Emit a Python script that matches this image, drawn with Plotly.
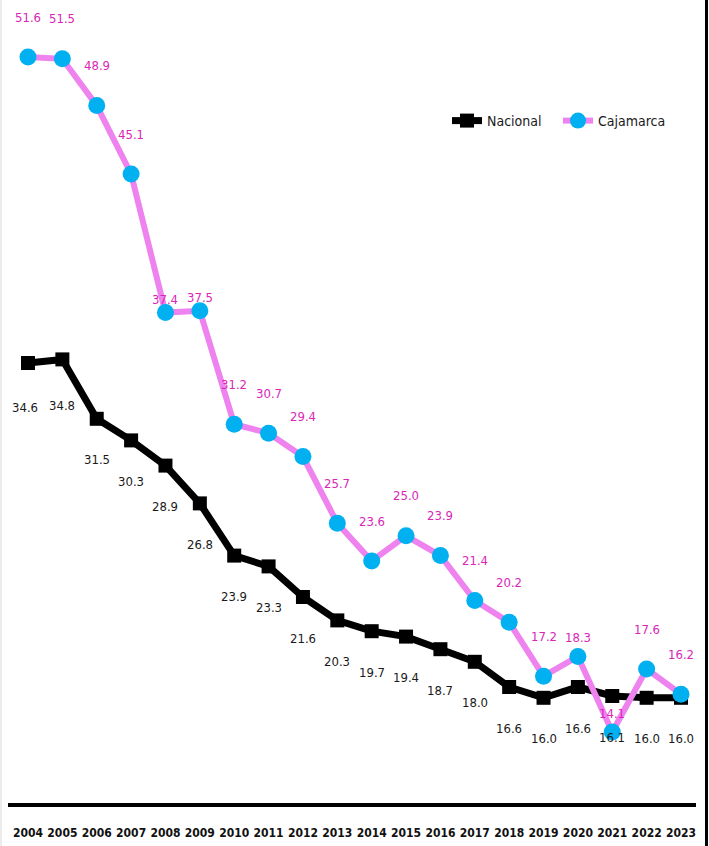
import plotly.graph_objects as go

years = [2004, 2005, 2006, 2007, 2008, 2009, 2010, 2011, 2012, 2013,
         2014, 2015, 2016, 2017, 2018, 2019, 2020, 2021, 2022, 2023]
nacional = [34.6, 34.8, 31.5, 30.3, 28.9, 26.8, 23.9, 23.3, 21.6, 20.3,
            19.7, 19.4, 18.7, 18.0, 16.6, 16.0, 16.6, 16.1, 16.0, 16.0]
cajamarca = [51.6, 51.5, 48.9, 45.1, 37.4, 37.5, 31.2, 30.7, 29.4, 25.7,
             23.6, 25.0, 23.9, 21.4, 20.2, 17.2, 18.3, 14.1, 17.6, 16.2]

FONT = "DejaVu Sans Condensed"
PINK_TXT = "#D926B8"
DARK_TXT = "#1A1A1A"

# label offsets (pixels)
caj_shift_default = 40
caj_shift_special = {2008: 13, 2009: 13, 2020: 19, 2021: 19}
nac_shift_default = -41
nac_shift_special = {2004: -44, 2005: -46}

fig = go.Figure()
fig.add_trace(go.Scatter(
    x=years, y=nacional, name="Nacional", mode="lines+markers",
    line=dict(color="#000000", width=7),
    marker=dict(symbol="square", size=14, color="#000000"),
))
fig.add_trace(go.Scatter(
    x=years, y=cajamarca, name="Cajamarca", mode="lines+markers",
    line=dict(color="#EE82EE", width=6),
    marker=dict(symbol="circle", size=17, color="#00B0F0"),
))

annotations = []
for yr, v in zip(years, cajamarca):
    annotations.append(dict(
        x=yr, y=v, text=f"{v:.1f}", showarrow=False,
        yshift=caj_shift_special.get(yr, caj_shift_default),
        font=dict(family=FONT, size=13, color=PINK_TXT),
    ))
for yr, v in zip(years, nacional):
    annotations.append(dict(
        x=yr, y=v, text=f"{v:.1f}", showarrow=False,
        yshift=nac_shift_special.get(yr, nac_shift_default),
        xshift=-3 if yr in (2004,) else 0,
        font=dict(family=FONT, size=13, color=DARK_TXT),
    ))

# plot area: left=8, right=696, top=0, bottom=803
L, R, T, B = 8, 696, 0, 803
W, H = 709, 846
pw, ph = R - L, B - T
px_per_year = (681 - 28) / 19
xmin = 2004 - (28 - L) / px_per_year
xmax = 2023 + (R - 681) / px_per_year
px_per_unit = 18.0
ytop = 51.6 + (57 - T) / px_per_unit
ybot = 51.6 - (B - 57) / px_per_unit

def xp(px):
    return (px - L) / pw

def yp(py):
    return (B - py) / ph

shapes = [
    dict(type="line", xref="paper", yref="paper", x0=xp(1), x1=xp(1),
         y0=yp(H), y1=yp(0), line=dict(color="#D9D9D9", width=1)),
    dict(type="line", xref="paper", yref="paper", x0=xp(706.5), x1=xp(706.5),
         y0=yp(H), y1=yp(0), line=dict(color="#000000", width=3)),
]

fig.update_layout(
    width=W, height=H,
    margin=dict(l=L, r=W - R, t=T, b=H - B, pad=0, autoexpand=False),
    paper_bgcolor="white", plot_bgcolor="white",
    font=dict(family=FONT, size=13, color=DARK_TXT),
    showlegend=True,
    legend=dict(orientation="h", x=xp(447), y=yp(121), xanchor="left",
                yanchor="middle", bgcolor="rgba(0,0,0,0)",
                font=dict(family=FONT, size=14, color=DARK_TXT),
                entrywidth=66, entrywidthmode="pixels",
                itemwidth=30, tracegroupgap=0),
    annotations=annotations,
    shapes=shapes,
    xaxis=dict(range=[xmin, xmax], tickmode="array", tickvals=years,
               ticktext=[str(y) for y in years], showgrid=False,
               zeroline=False, showline=True, linecolor="#000000",
               linewidth=4, ticks="", ticklabelstandoff=16, tickangle=0,
               automargin=False,
               tickfont=dict(family=FONT, size=12, color="#111111",
                             weight="bold")),
    yaxis=dict(range=[ybot, ytop], visible=False, showgrid=False,
               zeroline=False, automargin=False),
)

fig.write_html(
    "out.html",
    config={"displayModeBar": False},
    post_script="document.body.style.margin='0';document.body.style.overflow='hidden';",
)
